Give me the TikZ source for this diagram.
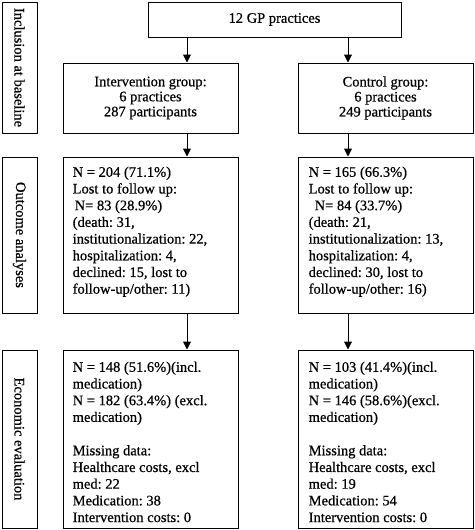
\documentclass[tikz,border=0pt]{standalone}
\usepackage{fontspec}
\setmainfont{Liberation Serif}[BoldFont={Liberation Serif},BoldFeatures={FakeBold=0.6}]
\usetikzlibrary{positioning,arrows.meta}
\frenchspacing

\begin{document}
\begin{tikzpicture}[x=1pt,y=-1pt,
    box/.style={draw,line width=1pt,inner sep=0pt},
    txt/.style={inner sep=0pt,align=left,anchor=north west},
    >={Triangle[length=8pt,width=8pt]},
    font=\fontsize{14.5}{16.7}\selectfont\bfseries]
      \useasboundingbox (0,0) rectangle (474,530);

      \node[box,rotate=-90,minimum width=131pt,minimum height=35pt] (S1) at (19.5,67.5) {Inclusion at baseline};
      \node[box,rotate=-90,minimum width=156pt,minimum height=35pt] (S2) at (19.5,235) {Outcome analyses};
      \node[box,rotate=-90,minimum width=178pt,minimum height=35pt] (S3) at (19.5,439) {Economic evaluation};

      \node[box,minimum width=253pt,minimum height=35pt] (GP) at (274.5,19.5) {\raisebox{2pt}{12 GP practices}};

      \node[box,minimum width=175pt,minimum height=70pt,align=center,font=\fontsize{14.5}{15}\selectfont\bfseries] (IG) at (150.5,98) {Intervention group:\\6 practices\\287 participants};
      \node[box,minimum width=175pt,minimum height=70pt,align=center,font=\fontsize{14.5}{15}\selectfont\bfseries] (CG) at (385.5,98) {Control group:\\6 practices\\249 participants};

      \node[box,minimum width=175pt,minimum height=156pt] (IO) at (150.5,235) {};
      \node[box,minimum width=175pt,minimum height=156pt] (CO) at (385.5,235) {};
      \node[txt,below right=10pt and 10pt of IO.north west] (IOt) {N = 204 (71.1\%)\\Lost to follow up:\\\hspace{2pt}N= 83 (28.9\%)\\(death: 31,\\institutionalization: 22,\\hospitalization: 4,\\declined: 15, lost to\\follow-up/other: 11)};
      \node[txt,below right=10pt and 11pt of CO.north west] (COt) {N = 165 (66.3\%)\\Lost to follow up:\\\hspace{6pt}N= 84 (33.7\%)\\(death: 21,\\institutionalization: 13,\\hospitalization: 4,\\declined: 30, lost to\\follow-up/other: 16)};

      \node[box,minimum width=175pt,minimum height=178pt] (IE) at (150.5,439) {};
      \node[box,minimum width=175pt,minimum height=178pt] (CE) at (385.5,439) {};
      \node[txt,below right=12pt and 10pt of IE.north west] (IEt) {N = 148 (51.6\%)(incl.\\medication)\\N = 182 (63.4\%) (excl.\\medication)\\[16.7pt]Missing data:\\Healthcare costs, excl\\med: 22\\Medication: 38\\Intervention costs: 0};
      \node[txt,below right=12pt and 11pt of CE.north west] (CEt) {N = 103 (41.4\%)(incl.\\medication)\\N = 146 (58.6\%)(excl.\\medication)\\[16.7pt]Missing data:\\Healthcare costs, excl\\med: 19\\Medication: 54\\Intervention costs: 0};

      \coordinate (la) at (187,0);
      \coordinate (ra) at (348,0);
      \draw[->,line width=1pt] (GP.south -| la) to (IG.north -| la);
      \draw[->,line width=1pt] (GP.south -| ra) to (CG.north -| ra);
      \draw[->,line width=1pt] (IG.south -| la) to (IO.north -| la);
      \draw[->,line width=1pt] (CG.south -| ra) to (CO.north -| ra);
      \draw[->,line width=1pt] (IO.south -| la) to (IE.north -| la);
      \draw[->,line width=1pt] (CO.south -| ra) to (CE.north -| ra);
    \end{tikzpicture}
\end{document}
